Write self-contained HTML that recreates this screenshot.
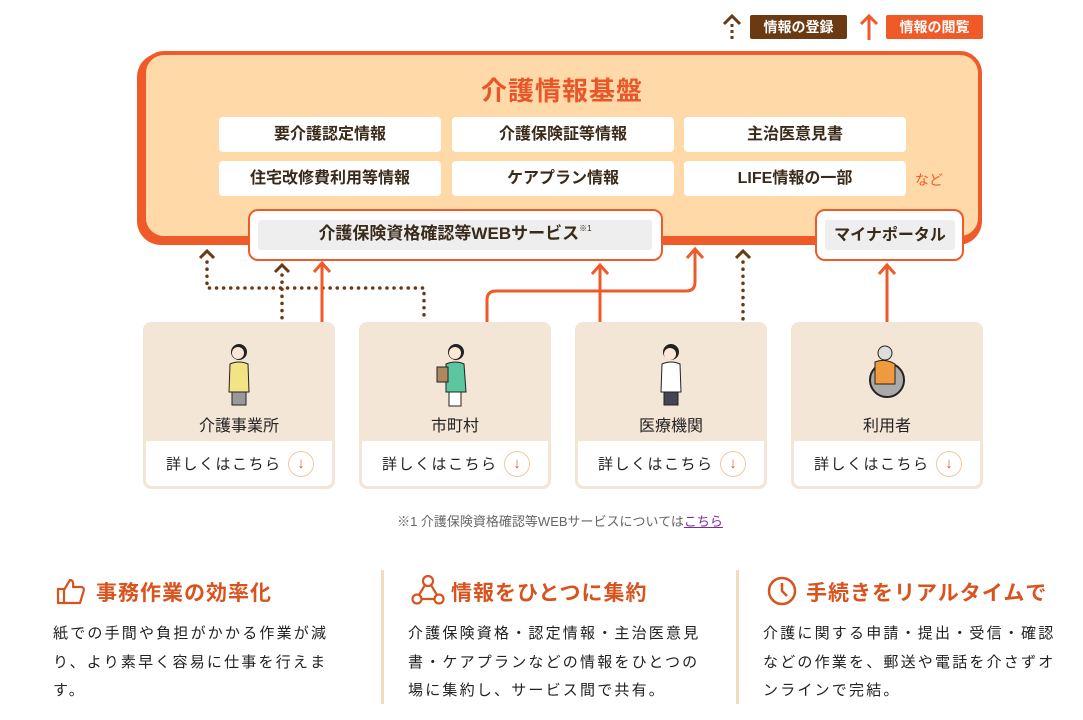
<!DOCTYPE html>
<html><head><meta charset="utf-8"><style>
*{margin:0;padding:0;box-sizing:border-box}
body{width:1083px;height:720px;background:#fff;position:relative;overflow:hidden;font-family:"Liberation Sans","Noto Sans CJK JP",sans-serif;color:#333}
.a{position:absolute}
.cell{position:absolute;background:#fff;border-radius:4px;height:35px;width:222px;font-weight:bold;font-size:16px;color:#3a2a1a;text-align:center;line-height:35px}
.card{position:absolute;top:322px;width:192px;height:167px;background:#f3e6d6;border-radius:8px}
.card .lb{position:absolute;top:90px;width:100%;text-align:center;font-size:16px;color:#222}
.card .bt{position:absolute;left:3px;right:3px;bottom:3px;height:45px;background:#fff;border-radius:0 0 6px 6px;font-size:15px;letter-spacing:1.5px;color:#222;line-height:47px;padding-left:20px}
.card .ci{position:absolute;right:18px;top:10px;width:26px;height:26px;border-radius:50%;border:1px solid #f5c7a0;color:#e8572a;font-size:15px;line-height:24px;text-align:center;font-weight:bold;padding:0;letter-spacing:0}
.h{position:absolute;top:577px;font-size:21px;font-weight:bold;color:#d9531e;letter-spacing:1px}
.p{position:absolute;top:620px;font-size:15px;line-height:28.5px;letter-spacing:2.2px;color:#222}
.div{position:absolute;top:570px;width:3px;height:134px;background:#f1dcc0}
</style></head><body>
<svg class="a" style="left:720px;top:12px" width="30" height="30"><path d="M4 12 L12 4 L20 12" fill="none" stroke="#6b3a12" stroke-width="3"/><line x1="12" y1="12" x2="12" y2="27" stroke="#6b3a12" stroke-width="3" stroke-dasharray="3 3"/></svg>
<div class="a" style="left:750px;top:15px;width:97px;height:24px;background:#6b3a12;color:#fff;font-size:14px;font-weight:bold;line-height:24px;text-align:center;border-radius:2px">情報の登録</div>
<svg class="a" style="left:857px;top:12px" width="26" height="30"><path d="M4 12 L12 4 L20 12" fill="none" stroke="#f05a28" stroke-width="3"/><line x1="12" y1="5" x2="12" y2="28" stroke="#f05a28" stroke-width="3"/></svg>
<div class="a" style="left:886px;top:15px;width:97px;height:24px;background:#f05a28;color:#fff;font-size:14px;font-weight:bold;line-height:24px;text-align:center;border-radius:2px">情報の閲覧</div>
<div class="a" style="left:137px;top:53px;width:845px;height:192px;background:#f05a28;border-radius:24px"></div>
<div class="a" style="left:142px;top:51px;width:840px;height:189px;background:#ffd9a8;border:4px solid #f05a28;border-radius:22px"></div>
<div class="a" style="left:137px;top:71px;width:850px;text-align:center;font-size:26px;font-weight:bold;color:#e8572a;letter-spacing:1px">介護情報基盤</div>
<div class="cell" style="left:219px;top:117px">要介護認定情報</div>
<div class="cell" style="left:452px;top:117px">介護保険証等情報</div>
<div class="cell" style="left:684px;top:117px">主治医意見書</div>
<div class="cell" style="left:219px;top:161px">住宅改修費利用等情報</div>
<div class="cell" style="left:452px;top:161px">ケアプラン情報</div>
<div class="cell" style="left:684px;top:161px">LIFE情報の一部</div>
<div class="a" style="left:915px;top:170px;font-size:14px;color:#f05a28">など</div>
<div class="a" style="left:248px;top:209px;width:415px;height:52px;background:#fff;border:2px solid #f05a28;border-radius:10px"></div>
<div class="a" style="left:258px;top:220px;width:394px;height:30px;background:#eeeeee;border-radius:3px;text-align:center;line-height:28px;font-size:17px;font-weight:bold;color:#3a2a1a">介護保険資格確認等WEBサービス<span style="font-size:8px;font-weight:normal;position:relative;top:-8px">※1</span></div>
<div class="a" style="left:815px;top:209px;width:149px;height:52px;background:#fff;border:2px solid #f05a28;border-radius:10px"></div>
<div class="a" style="left:825px;top:220px;width:130px;height:30px;background:#eeeeee;border-radius:3px;text-align:center;line-height:31px;font-size:16px;font-weight:bold;color:#3a2a1a">マイナポータル</div>
<svg class="a" style="left:0;top:0" width="1083" height="330">
<g fill="none" stroke="#6b3a12" stroke-width="3.5" stroke-dasharray="0.1 7" stroke-linecap="round">
<path d="M207 262 V288 H424 V320"/><path d="M282 275 V320"/><path d="M743 262 V320"/>
</g>
<g fill="none" stroke="#6b3a12" stroke-width="3"><path d="M200 258 L207 251 L214 258"/><path d="M275 272 L282 265 L289 272"/><path d="M736 258 L743 251 L750 258"/></g>
<g fill="none" stroke="#f05a28" stroke-width="3">
<path d="M322 322 V263"/><path d="M314 272 L322 263 L330 272"/>
<path d="M600 322 V265"/><path d="M592 274 L600 265 L608 274"/>
<path d="M487 322 V300 Q487 291 496 291 H686 Q695 291 695 282 V249"/><path d="M687 258 L695 249 L703 258"/>
<path d="M887 322 V265"/><path d="M879 274 L887 265 L895 274"/>
</g></svg>
<div class="card" style="left:143px"><svg class="a" style="left:80px;top:20px" width="32" height="66"><circle cx="16" cy="10" r="8" fill="#222"/><circle cx="15" cy="11" r="6" fill="#fde8d8"/><path d="M7 22 Q16 18 25 22 L26 50 L6 50Z" fill="#f2e384" stroke="#222"/><rect x="9" y="50" width="14" height="13" fill="#999" stroke="#222"/></svg><div class="lb">介護事業所</div><div class="bt">詳しくはこちら<span class="ci">↓</span></div></div>
<div class="card" style="left:359px"><svg class="a" style="left:75px;top:20px" width="40" height="66"><circle cx="22" cy="10" r="8" fill="#222"/><circle cx="21" cy="11" r="6" fill="#fde8d8"/><path d="M12 22 Q22 18 30 22 L32 50 L12 50Z" fill="#5bc6a0" stroke="#222"/><rect x="3" y="25" width="11" height="15" fill="#b08860" stroke="#222"/><rect x="15" y="50" width="12" height="14" fill="#fff" stroke="#222"/></svg><div class="lb">市町村</div><div class="bt">詳しくはこちら<span class="ci">↓</span></div></div>
<div class="card" style="left:575px"><svg class="a" style="left:80px;top:20px" width="32" height="66"><circle cx="16" cy="10" r="8" fill="#222"/><circle cx="15" cy="12" r="6" fill="#fde8d8"/><path d="M7 22 Q16 18 25 22 L26 50 L6 50Z" fill="#fff" stroke="#222"/><rect x="9" y="50" width="14" height="13" fill="#445" stroke="#222"/></svg><div class="lb">医療機関</div><div class="bt">詳しくはこちら<span class="ci">↓</span></div></div>
<div class="card" style="left:791px"><svg class="a" style="left:70px;top:22px" width="52" height="56"><circle cx="26" cy="36" r="17" fill="#aaa" stroke="#222" stroke-width="2"/><circle cx="24" cy="9" r="7" fill="#ddd" stroke="#222"/><path d="M14 18 Q24 14 34 20 L34 40 L14 40Z" fill="#f09a3e" stroke="#222"/></svg><div class="lb">利用者</div><div class="bt">詳しくはこちら<span class="ci">↓</span></div></div>
<div class="a" style="left:0;top:511px;width:1120px;text-align:center;font-size:13px;color:#666">※1 介護保険資格確認等WEBサービスについては<span style="color:#7a2aa0;text-decoration:underline">こちら</span></div>
<svg class="a" style="left:55px;top:577px" width="32" height="28"><path d="M3 12 H9 V26 H3Z M9 13 L15 3 Q19 3 18 10 H27 Q30 11 28 16 L25 26 H9" fill="none" stroke="#d9531e" stroke-width="2.2" stroke-linejoin="round"/></svg>
<div class="h" style="left:96px">事務作業の効率化</div>
<div class="p" style="left:53px">紙での手間や負担がかかる作業が減<br>り、より素早く容易に仕事を行えま<br>す。</div>
<div class="div" style="left:381px"></div>
<svg class="a" style="left:411px;top:574px" width="34" height="32"><circle cx="17" cy="7" r="5" fill="none" stroke="#d9531e" stroke-width="2.2"/><circle cx="6" cy="25" r="4.5" fill="none" stroke="#d9531e" stroke-width="2.2"/><circle cx="28" cy="25" r="4.5" fill="none" stroke="#d9531e" stroke-width="2.2"/><path d="M14 11 L8 21 M20 11 L26 21 M10 25 H24" stroke="#d9531e" stroke-width="2.2"/></svg>
<div class="h" style="left:451px">情報をひとつに集約</div>
<div class="p" style="left:408px">介護保険資格・認定情報・主治医意見<br>書・ケアプランなどの情報をひとつの<br>場に集約し、サービス間で共有。</div>
<div class="div" style="left:736px"></div>
<svg class="a" style="left:766px;top:575px" width="32" height="32"><circle cx="16" cy="16" r="13" fill="none" stroke="#d9531e" stroke-width="2.5"/><path d="M16 8 V16 L21 21" fill="none" stroke="#d9531e" stroke-width="2.5"/></svg>
<div class="h" style="left:806px">手続きをリアルタイムで</div>
<div class="p" style="left:763px">介護に関する申請・提出・受信・確認<br>などの作業を、郵送や電話を介さずオ<br>ンラインで完結。</div>
</body></html>
